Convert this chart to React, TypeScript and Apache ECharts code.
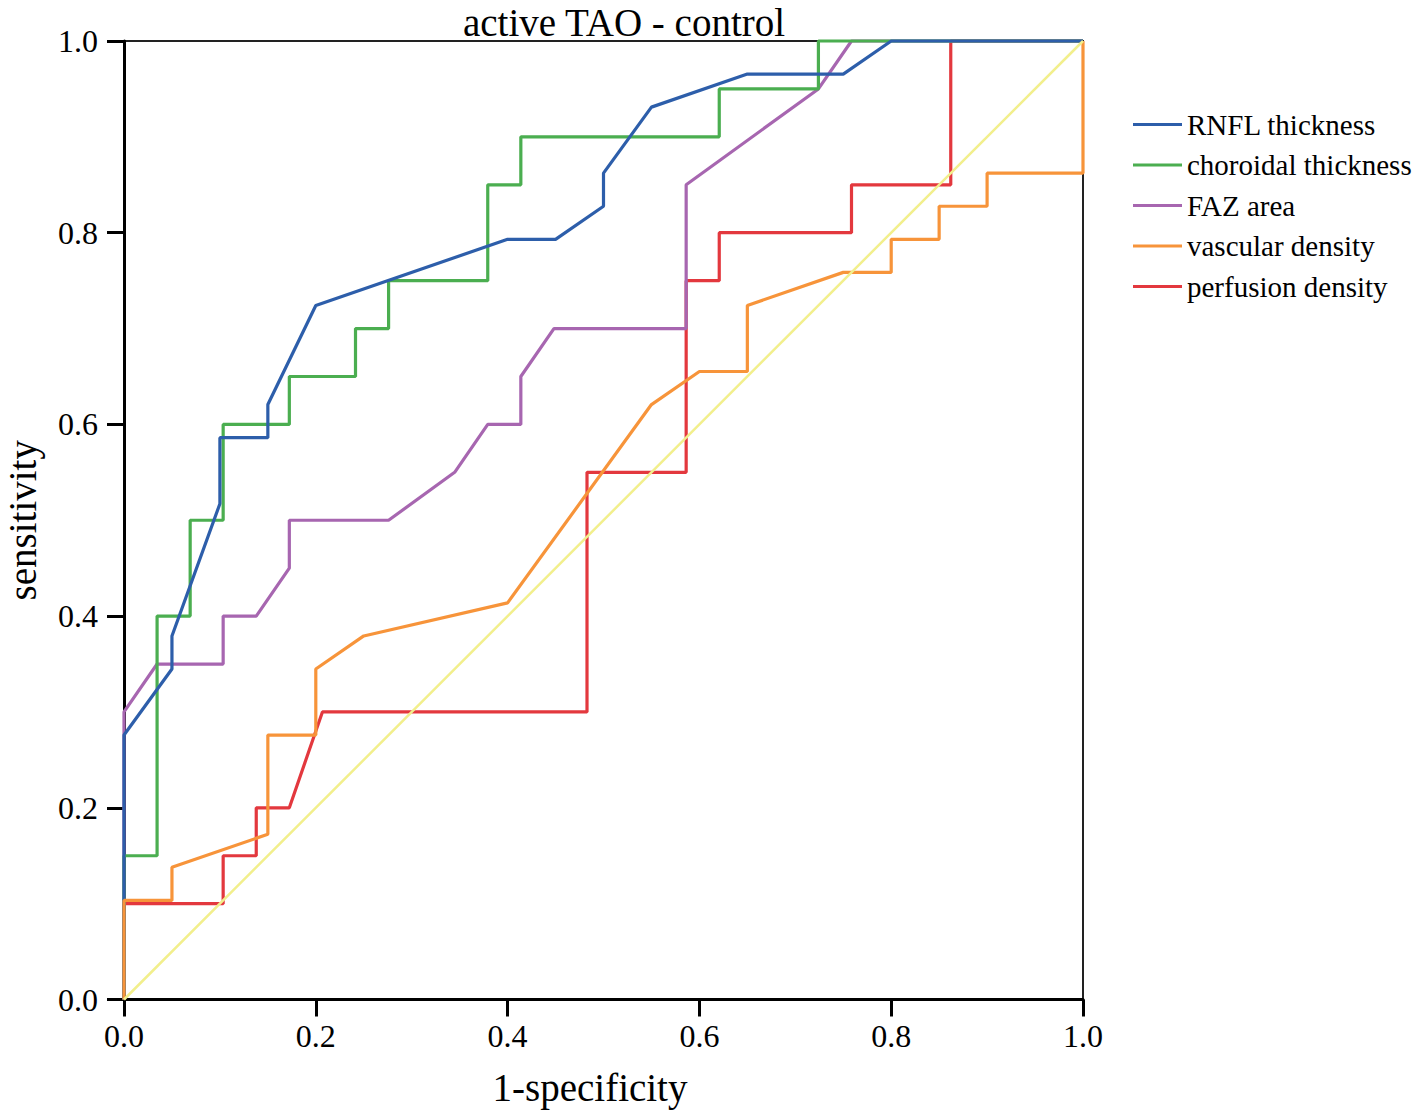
import React, { useEffect, useRef } from "react";
import * as echarts from "echarts";

const chartTitle = "active TAO - control";
const xAxisName = "1-specificity";
const yAxisName = "sensitivity";

const seriesNames = [
  "RNFL thickness",
  "choroidal thickness",
  "FAZ area",
  "vascular density",
  "perfusion density",
];

const seriesColors = ["#2d5eaa", "#4bae50", "#a766b0", "#f7943a", "#e3383e"];
const referenceColor = "#f2ef8c";

// [1-specificity, sensitivity]
const rnflThickness = [
  [0, 0], [0, 0.2759], [0.05, 0.3448], [0.05, 0.3793], [0.1, 0.5172], [0.1, 0.5862],
  [0.15, 0.5862], [0.15, 0.6207], [0.2, 0.7241], [0.4, 0.7931], [0.45, 0.7931],
  [0.5, 0.8276], [0.5, 0.8621], [0.55, 0.931], [0.65, 0.9655], [0.75, 0.9655],
  [0.8, 1.0], [1.0, 1.0],
];

const choroidalThickness = [
  [0, 0], [0, 0.15], [0.0345, 0.15], [0.0345, 0.4], [0.069, 0.4], [0.069, 0.5],
  [0.1034, 0.5], [0.1034, 0.6], [0.1724, 0.6], [0.1724, 0.65], [0.2414, 0.65],
  [0.2414, 0.7], [0.2759, 0.7], [0.2759, 0.75], [0.3793, 0.75], [0.3793, 0.85],
  [0.4138, 0.85], [0.4138, 0.9], [0.6207, 0.9], [0.6207, 0.95], [0.7241, 0.95],
  [0.7241, 1.0], [1.0, 1.0],
];

const fazArea = [
  [0, 0], [0, 0.3], [0.0345, 0.35], [0.1034, 0.35], [0.1034, 0.4], [0.1379, 0.4],
  [0.1724, 0.45], [0.1724, 0.5], [0.2759, 0.5], [0.3448, 0.55], [0.3793, 0.6],
  [0.4138, 0.6], [0.4138, 0.65], [0.4483, 0.7], [0.5862, 0.7], [0.5862, 0.85],
  [0.7241, 0.95], [0.7586, 1.0], [1.0, 1.0],
];

const vascularDensity = [
  [0, 0], [0, 0.1034], [0.05, 0.1034], [0.05, 0.1379], [0.15, 0.1724], [0.15, 0.2759],
  [0.2, 0.2759], [0.2, 0.3448], [0.25, 0.3793], [0.4, 0.4138], [0.55, 0.6207],
  [0.6, 0.6552], [0.65, 0.6552], [0.65, 0.7241], [0.75, 0.7586], [0.8, 0.7586],
  [0.8, 0.7931], [0.85, 0.7931], [0.85, 0.8276], [0.9, 0.8276], [0.9, 0.8621],
  [1.0, 0.8621], [1.0, 1.0],
];

const perfusionDensity = [
  [0, 0], [0, 0.1], [0.1034, 0.1], [0.1034, 0.15], [0.1379, 0.15], [0.1379, 0.2],
  [0.1724, 0.2], [0.2069, 0.3], [0.4828, 0.3], [0.4828, 0.55], [0.5862, 0.55],
  [0.5862, 0.75], [0.6207, 0.75], [0.6207, 0.8], [0.7586, 0.8], [0.7586, 0.85],
  [0.8621, 0.85], [0.8621, 1.0], [1.0, 1.0],
];

const referenceLine = [
  [0, 0],
  [1, 1],
];

const FONT = "Liberation Serif";

export default function App() {
  const ref = useRef<HTMLDivElement>(null);

  useEffect(() => {
    if (!ref.current) return;
    const chart = echarts.init(ref.current, undefined, { renderer: "svg" });

    const curveData = [rnflThickness, choroidalThickness, fazArea, vascularDensity, perfusionDensity];
    // drawing order bottom -> top: perfusion, FAZ, choroidal, RNFL, vascular
    const drawOrder = [4, 2, 1, 0, 3];

    const lineSeries = drawOrder.map((i) => ({
      name: seriesNames[i],
      type: "line",
      data: curveData[i],
      showSymbol: false,
      symbol: "none",
      clip: false,
      color: seriesColors[i],
      lineStyle: { color: seriesColors[i], width: 3.2 },
      emphasis: { disabled: true },
    }));

    const option: any = {
      animation: false,
      backgroundColor: "#ffffff",
      textStyle: { fontFamily: FONT, color: "#000" },
      title: {
        text: chartTitle,
        left: 619,
        top: 2,
        padding: 5,
        textAlign: "center",
        textStyle: {
          fontFamily: FONT,
          fontSize: 39,
          lineHeight: 30,
          fontWeight: "normal",
          color: "#000",
        },
      },
      legend: {
        orient: "vertical",
        left: 1128,
        top: 105,
        icon: "rect",
        itemWidth: 49,
        itemHeight: 3,
        itemGap: 11.5,
        data: seriesNames,
        selectedMode: false,
        textStyle: { fontFamily: FONT, fontSize: 29, lineHeight: 29, color: "#000" },
      },
      grid: {
        left: 124,
        right: 335,
        top: 41,
        bottom: 112.5,
        outerBoundsMode: "none",
        containLabel: false,
        show: true,
        borderColor: "#222",
        borderWidth: 2,
        backgroundColor: "transparent",
      },
      xAxis: {
        type: "value",
        min: 0,
        max: 1,
        interval: 0.2,
        name: xAxisName,
        nameLocation: "middle",
        nameGap: 68,
        nameTextStyle: { fontFamily: FONT, fontSize: 39, color: "#000", padding: [0, 27, 0, 0] },
        axisLine: { show: true, onZero: false, lineStyle: { color: "#000", width: 3 } },
        axisTick: { show: true, inside: false, length: 17, lineStyle: { color: "#000", width: 3 } },
        axisLabel: {
          fontFamily: FONT,
          fontSize: 32,
          color: "#000",
          margin: 20,
          formatter: (v: number) => v.toFixed(1),
        },
        splitLine: { show: false },
      },
      yAxis: {
        type: "value",
        min: 0,
        max: 1,
        interval: 0.2,
        name: yAxisName,
        nameLocation: "middle",
        nameGap: 87,
        nameTextStyle: { fontFamily: FONT, fontSize: 39, lineHeight: 30, color: "#000" },
        axisLine: { show: true, onZero: false, lineStyle: { color: "#000", width: 3 } },
        axisTick: { show: true, inside: false, length: 17, lineStyle: { color: "#000", width: 3 } },
        axisLabel: {
          fontFamily: FONT,
          fontSize: 32,
          color: "#000",
          margin: 26,
          formatter: (v: number) => v.toFixed(1),
        },
        splitLine: { show: false },
      },
      series: [
        ...lineSeries,
        {
          name: "reference",
          type: "line",
          data: referenceLine,
          showSymbol: false,
          symbol: "none",
          clip: false,
          color: referenceColor,
          lineStyle: { color: referenceColor, width: 2.5 },
          emphasis: { disabled: true },
        },
      ],
    };

    chart.setOption(option);
    return () => chart.dispose();
  }, []);

  return (
    <div
      ref={ref}
      style={{ position: "fixed", left: 0, top: 0, width: 1418, height: 1112, background: "#fff" }}
    />
  );
}
